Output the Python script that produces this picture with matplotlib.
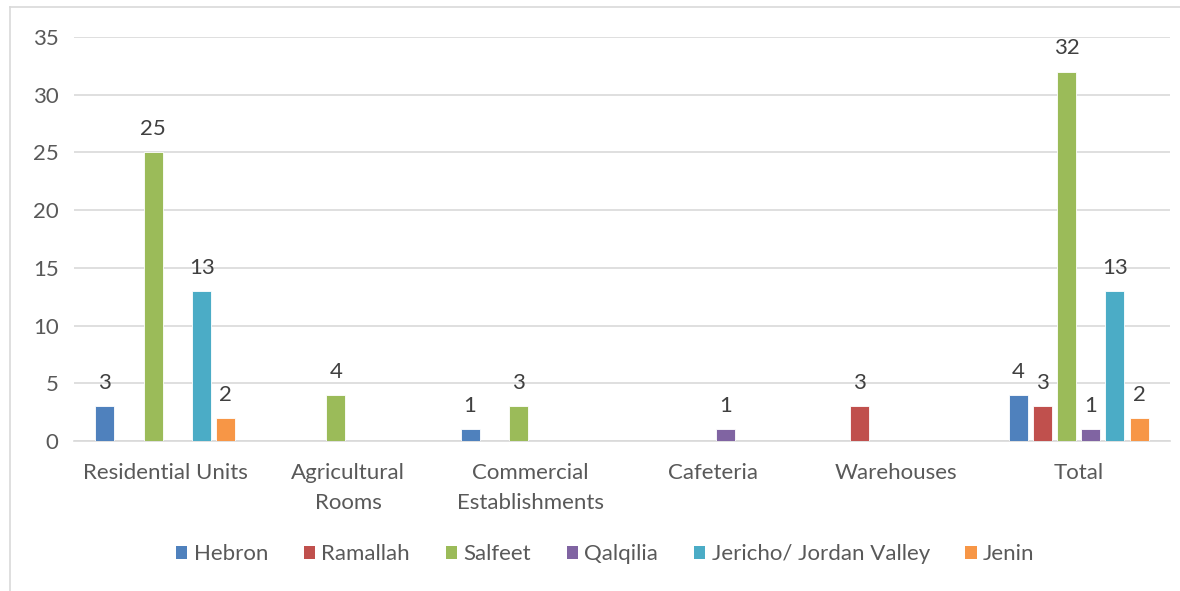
import matplotlib.pyplot as plt
import numpy as np
from matplotlib.lines import Line2D
from matplotlib.patches import Patch

categories = ['Residential Units', 'Agricultural\nRooms', 'Commercial\nEstablishments',
              'Cafeteria', 'Warehouses', 'Total']
series = ['Hebron', 'Ramallah', 'Salfeet', 'Qalqilia', 'Jericho/ Jordan Valley', 'Jenin']
hebron = [3, 0, 1, 0, 0, 4]
ramallah = [0, 0, 0, 0, 3, 3]
salfeet = [25, 4, 3, 0, 0, 32]
qalqilia = [0, 0, 0, 1, 0, 1]
jericho = [13, 0, 0, 0, 0, 13]
jenin = [2, 0, 0, 0, 0, 2]
colors = ['#4F81BD', '#C0504D', '#9BBB59', '#8064A2', '#4BACC6', '#F79646']

plt.rcParams['font.family'] = ['Lato', 'DejaVu Sans']

fig = plt.figure(figsize=(11.8, 5.91), dpi=100)
ax = fig.add_axes([0.0627, 0.2538, 0.9288, 0.6836])

x = np.arange(len(categories))
step = 0.1325
width = 0.104
data = [hebron, ramallah, salfeet, qalqilia, jericho, jenin]
for i, (name, vals) in enumerate(zip(series, data)):
    pos = x + (i - 2.5) * step
    for p, v in zip(pos, vals):
        if v == 0:
            continue
        ax.bar(p, v, width, color=colors[i], edgecolor='white', linewidth=0.6, zorder=3)
        ax.text(p, v + 1.15, str(v), ha='center', va='bottom', fontsize=16, color='#404040')

ax.set_xlim(-0.5, len(categories) - 0.5)
ax.set_ylim(0, 35)
ax.set_yticks(range(0, 36, 5))
ax.set_xticks(x)
ax.set_xticklabels(categories, fontsize=16, color='#595959', linespacing=1.6)
ax.tick_params(axis='y', labelsize=16, labelcolor='#595959', length=0, pad=11)
ax.tick_params(axis='x', length=0, pad=16)
ax.grid(axis='y', color='#D9D9D9', linewidth=1.2, zorder=0)
for s in ['top', 'right', 'left']:
    ax.spines[s].set_visible(False)
ax.spines['bottom'].set_color('#D9D9D9')
ax.spines['bottom'].set_linewidth(1.2)

handles = [Patch(facecolor=c, label=n) for c, n in zip(colors, series)]
fig.legend(handles=handles, loc='center', bbox_to_anchor=(0.513, 0.062), ncol=6,
           frameon=False, fontsize=16, handlelength=0.5, handleheight=0.5,
           handletextpad=0.3, columnspacing=1.6, labelcolor='#595959')

# outer chart frame
fig.add_artist(Line2D([10 / 1180, 10 / 1180], [0, 1 - 7 / 591], transform=fig.transFigure,
                      color='#D9D9D9', linewidth=1.2))
fig.add_artist(Line2D([10 / 1180, 1], [1 - 7 / 591, 1 - 7 / 591], transform=fig.transFigure,
                      color='#D9D9D9', linewidth=1.2))

fig.savefig('out.png', dpi=100)
